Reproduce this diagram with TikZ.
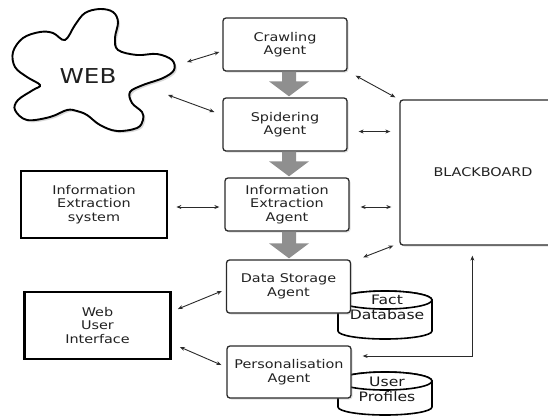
\documentclass[tikz,border=0pt]{standalone}
\usepackage{fontspec}
\newfontfamily\dfont[FakeStretch=1.2]{DejaVu Sans}
\usetikzlibrary{arrows.meta,shadows,calc}
\definecolor{txt}{HTML}{222222}
\definecolor{edge}{HTML}{2A2A2A}
\definecolor{garr}{HTML}{8F8F8F}
\begin{document}
\begin{tikzpicture}[x=1pt,y=-1pt,
  lbl/.style={font=\dfont\fontsize{12}{13.5}\selectfont, text=txt, align=center},
  agent/.style={lbl, draw=edge, line width=1.3pt, fill=white, rounded corners=3pt,
    minimum width=124pt, minimum height=53pt, inner sep=0pt,
    drop shadow={shadow xshift=1.5pt, shadow yshift=-1.5pt, opacity=0.25}},
  ext/.style={lbl, draw=black, line width=2.8pt, fill=white,
    minimum width=146pt, minimum height=67pt, inner sep=0pt},
  link/.style={draw=edge, line width=0.9pt, {Stealth[length=5pt,width=4pt]}-{Stealth[length=5pt,width=4pt]}},
  garrow/.style={fill=garr},
  cyl/.style={draw=black, line width=1.6pt, fill=white},
  cyltxt/.style={font=\dfont\fontsize{13}{15}\selectfont, text=black!90, align=center}
]
\useasboundingbox (0,0) rectangle (548,416);
\clip (0,0) rectangle (548,416);

% cloud
\filldraw[draw=black, line width=1.9pt, fill=white,
  drop shadow={shadow xshift=2pt, shadow yshift=-2pt, opacity=0.3}]
  plot[smooth cycle, tension=0.6] coordinates {
  (65,40) (75,25) (85,13) (100,9) (113,12) (118,22) (115,38) (118,50)
  (137,55) (157,54) (172,60) (174,70) (163,78) (143,85) (130,92)
  (132,103) (142,112) (143,120) (137,128) (117,131) (100,125) (87,115) (77,111)
  (67,110) (50,117) (27,120) (15,110) (18,100) (33,90) (40,85)
  (27,77) (15,67) (13,52) (23,38) (40,32) (53,33)};
\node[font=\dfont\fontsize{20.5}{24}\selectfont, text=black!88] (web) at (88,76) {WEB};

% cylinders
\filldraw[cyl] (338,300) -- (338,331) arc[start angle=180, end angle=360, x radius=47pt, y radius=8pt]
  -- (432,300) arc[start angle=0, end angle=180, x radius=47pt, y radius=9pt] -- cycle;
\draw[cyl] (385,300) ellipse[x radius=47pt, y radius=9pt];
\node[cyltxt] (fact) at (387,307) {Fact\\Database};

\filldraw[cyl] (338,381) -- (338,407) arc[start angle=180, end angle=360, x radius=47pt, y radius=8pt]
  -- (432,381) arc[start angle=0, end angle=180, x radius=47pt, y radius=9pt] -- cycle;
\draw[cyl] (385,381) ellipse[x radius=47pt, y radius=9pt];
\node[cyltxt] (prof) at (387,389) {User\\Profiles};

% agents
\node[agent] (crawl) at (285,44.5) {Crawling\\Agent};
\node[agent] (spider) at (285,124.5) {Spidering\\Agent};
\node[agent] (iea) at (287,204.5) {Information\\Extraction\\Agent};
\node[agent] (dsa) at (288.5,286.5) {Data Storage\\Agent};
\node[agent, minimum height=52pt] (pa) at (289,372) {Personalisation\\Agent};
\node[agent, minimum width=166pt, minimum height=145pt] (bb) at (483,172.5) {BLACKBOARD};

% external systems
\node[ext] (ies) at (94,204.5) {Information\\Extraction\\system};
\node[ext] (wui) at (97.5,325.5) {Web\\User\\Interface};

% grey flow arrows
\newcommand\flowarrow[2]{%
  \fill[garrow] let \p1=(#1.south), \p2=(#2.north) in
    (282pt,\y1) -- (296pt,\y1) -- (296pt,{\y2+16pt}) -- (309pt,{\y2+16pt})
    -- (289pt,{\y2+1pt}) -- (269pt,{\y2+16pt}) -- (282pt,{\y2+16pt}) -- cycle;}
\flowarrow{crawl}{spider}
\flowarrow{spider}{iea}
\flowarrow{iea}{dsa}

% connectors
\draw[link] ($(web)+(99,-14)$) -- ($(crawl.west)+(-3,7.5)$);
\draw[link] ($(web)+(80,19)$) -- ($(spider.west)+(-8,-12.5)$);
\draw[link] ($(crawl.south east)+(8,4)$) -- ($(bb.north west)+(-4,-2)$);
\draw[link] ($(spider.east)+(11,7)$) -- ($(spider.east -| bb.west)+(-9,7)$);
\draw[link] ($(iea.east)+(11,2.5)$) -- ($(iea.east -| bb.west)+(-8,2.5)$);
\draw[link] ($(dsa.north east)+(12,-2)$) -- ($(bb.south west)+(-6,0)$);
\draw[link] ($(ies.east)+(8,2.5)$) -- ($(iea.west)+(-5,2.5)$);
\draw[link] ($(wui.east)+(6,-16.5)$) -- ($(dsa.west)+(-4,4.5)$);
\draw[link] ($(wui.east)+(8,21.5)$) -- ($(pa.west)+(-5,-7)$);
\draw[link] ($(bb.south west)+(73,10)$) |- ($(pa.east)+(11,-16)$);
\end{tikzpicture}
\end{document}
